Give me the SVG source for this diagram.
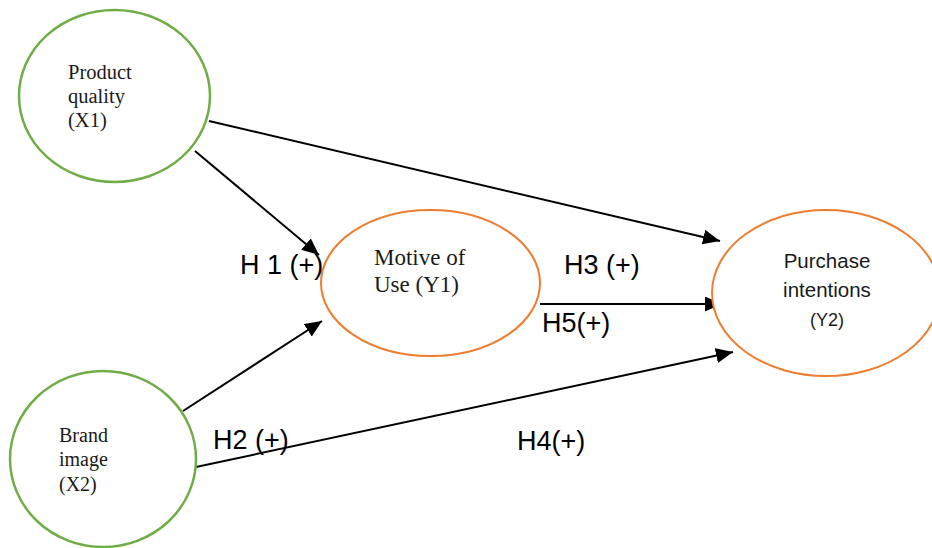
<svg xmlns="http://www.w3.org/2000/svg" width="932" height="548" viewBox="0 0 932 548">
  <style>
    .x { fill: #ffffff; stroke: #70AD47; stroke-width: 2.5; }
    .y { fill: #ffffff; stroke: #ED7D31; stroke-width: 2; }
    .serif { font-family: "Liberation Serif", "Times New Roman", serif; fill: #1a1a1a; }
    .sans { font-family: "Liberation Sans", Arial, sans-serif; fill: #1a1a1a; }
    .lbl { font-family: "Liberation Sans", Arial, sans-serif; font-size: 27px; fill: #000000; }
    .edge { stroke: #000000; stroke-width: 2; fill: none; marker-end: url(#arr); }
  </style>
  <defs>
    <marker id="arr" markerUnits="userSpaceOnUse" markerWidth="17" markerHeight="15" refX="17" refY="7.5" orient="auto">
      <path d="M0,0 L17,7.5 L0,15 Z" fill="#000000"/>
    </marker>
  </defs>
  <rect width="932" height="548" fill="#ffffff"/>

  <g id="connectors">
    <line class="edge" x1="209" y1="121" x2="720" y2="241"/>
    <line class="edge" x1="195" y1="151" x2="319" y2="255"/>
    <line class="edge" x1="183" y1="411" x2="322" y2="321"/>
    <line class="edge" x1="196" y1="467" x2="733" y2="352"/>
    <line class="edge" x1="540" y1="304" x2="722" y2="304"/>
  </g>

  <g id="product-quality">
    <ellipse class="x" cx="114.5" cy="96" rx="95.5" ry="86"/>
    <text class="serif" font-size="20.5" x="68" y="79">Product</text>
    <text class="serif" font-size="20.5" x="68" y="103">quality</text>
    <text class="serif" font-size="20.5" x="68" y="127">(X1)</text>
  </g>

  <g id="brand-image">
    <ellipse class="x" cx="103" cy="459" rx="93" ry="88"/>
    <text class="serif" font-size="20" x="59" y="442">Brand</text>
    <text class="serif" font-size="20" x="59" y="466">image</text>
    <text class="serif" font-size="20" x="59" y="491">(X2)</text>
  </g>

  <g id="motive-of-use">
    <ellipse class="y" cx="430.5" cy="283" rx="109.5" ry="73"/>
    <text class="serif" font-size="23" x="374" y="265">Motive of</text>
    <text class="serif" font-size="23" x="374" y="292">Use (Y1)</text>
  </g>

  <g id="purchase-intentions">
    <ellipse class="y" cx="826" cy="293" rx="114" ry="83"/>
    <text class="sans" font-size="20.5" x="827" y="268" text-anchor="middle">Purchase</text>
    <text class="sans" font-size="20.5" x="827" y="297" text-anchor="middle">intentions</text>
    <text class="sans" font-size="18" x="827" y="326" text-anchor="middle">(Y2)</text>
  </g>

  <g id="labels">
    <text class="lbl" x="240" y="274">H 1 (+)</text>
    <text class="lbl" x="564" y="274">H3 (+)</text>
    <text class="lbl" x="542" y="332">H5(+)</text>
    <text class="lbl" x="213" y="449">H2 (+)</text>
    <text class="lbl" x="517" y="450">H4(+)</text>
  </g>
</svg>
